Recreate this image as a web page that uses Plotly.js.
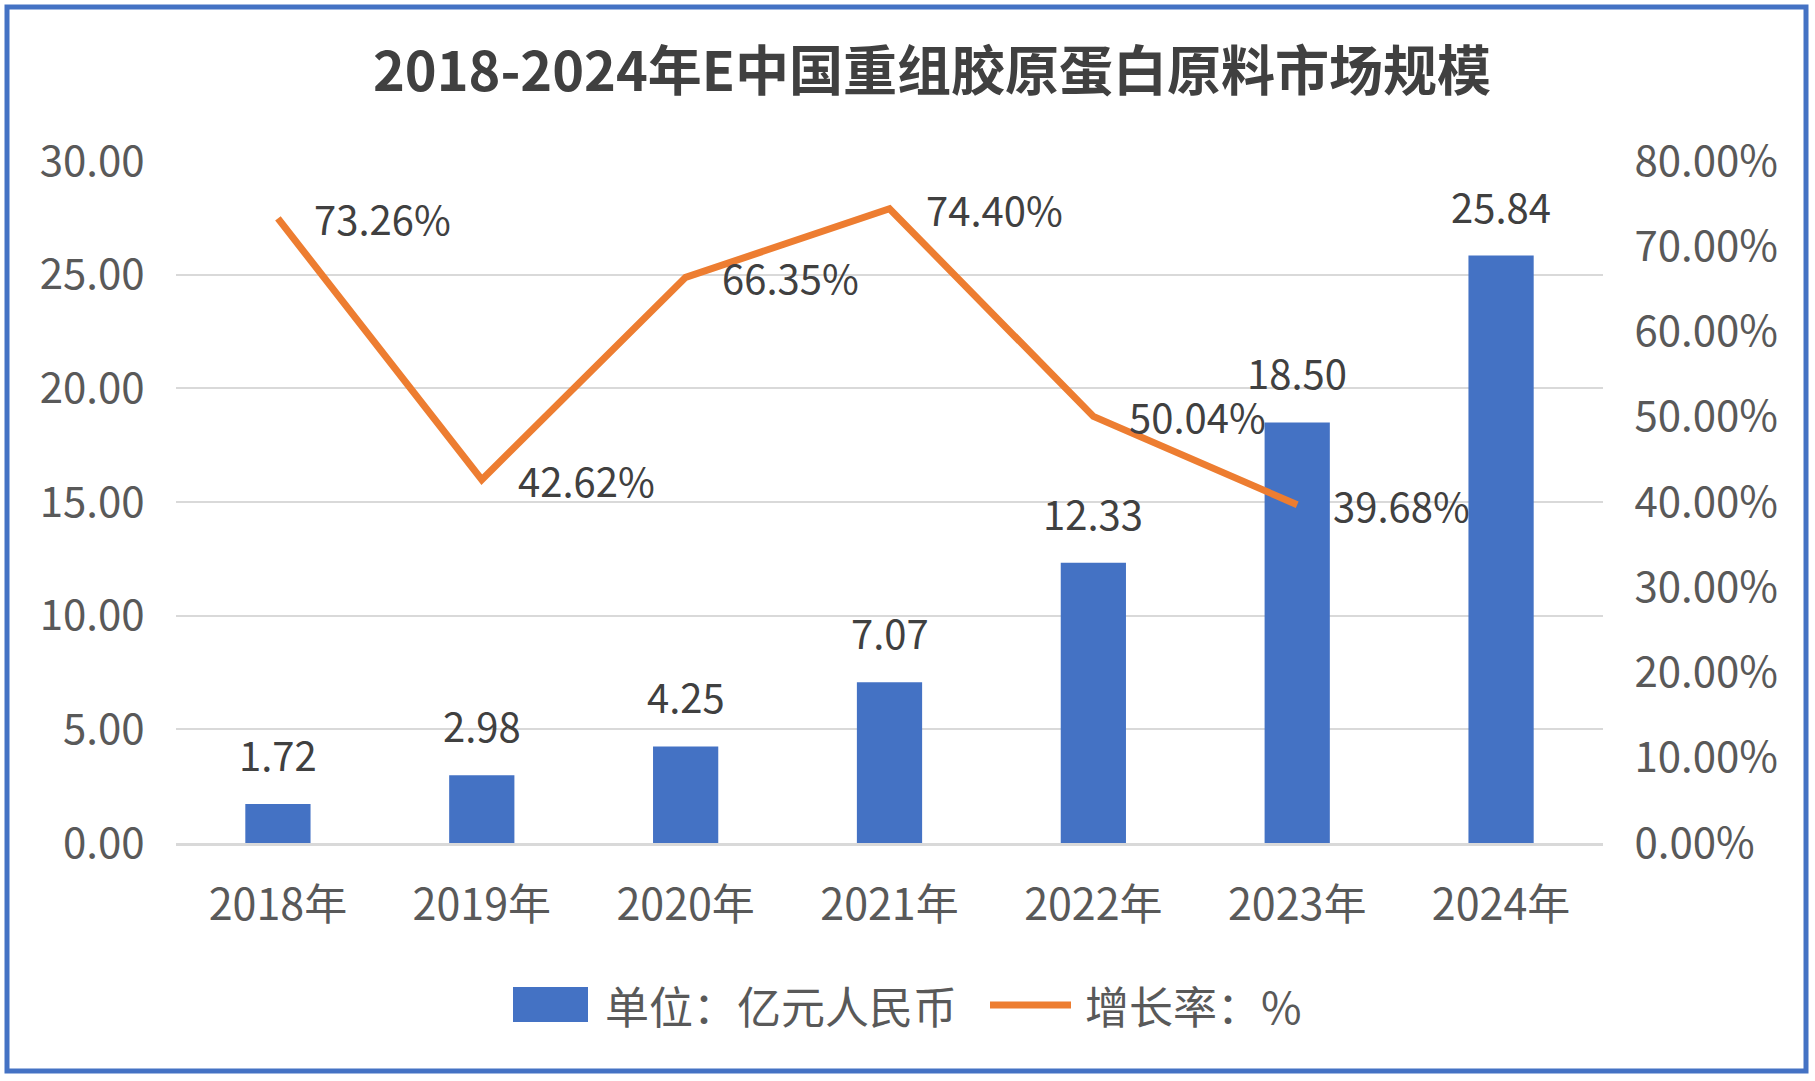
<!DOCTYPE html>
<html>
<head>
<meta charset="utf-8">
<script src="https://cdn.plot.ly/plotly-3.0.1.min.js"></script>
<style>
  html, body { margin: 0; padding: 0; background: #fff; }
  #chart { width: 1815px; height: 1081px; }
</style>
</head>
<body>
<div id="chart"></div>
<script>
(function() {
  "use strict";

  var years = ["2018年", "2019年", "2020年", "2021年", "2022年", "2023年", "2024年"];
  var marketSize = [1.72, 2.98, 4.25, 7.07, 12.33, 18.50, 25.84];
  var growthRate = [0.7326, 0.4262, 0.6635, 0.7440, 0.5004, 0.3968, null];
  var sizeLabels = ["1.72", "2.98", "4.25", "7.07", "12.33", "18.50", "25.84"];
  var rateLabels = ["73.26%", "42.62%", "66.35%", "74.40%", "50.04%", "39.68%"];
  var barName = "单位：亿元人民币";
  var lineName = "增长率：%";

  var W = 1815, H = 1081;
  var M = { l: 176, r: 212, t: 161, b: 238 };
  var FONT = "'Noto Sans CJK SC', 'Noto Sans', sans-serif";

  // pixel -> paper fraction, for the frame and the hand made legend
  function px(x) { return (x - M.l) / (W - M.l - M.r); }
  function py(y) { return (H - M.b - y) / (H - M.t - M.b); }

  function main() {
    var bars = {
      x: years,
      y: marketSize,
      name: barName,
      type: "bar",
      marker: { color: "#4472C4" },
      hoverinfo: "skip",
      showlegend: false
    };

    var line = {
      x: years,
      y: growthRate,
      name: lineName,
      type: "scatter",
      mode: "lines",
      yaxis: "y2",
      line: { color: "#ED7D31", width: 7 },
      hoverinfo: "skip",
      showlegend: false
    };

    var annotations = [];
    marketSize.forEach(function(v, i) {
      annotations.push({
        x: years[i], y: v, xref: "x", yref: "y",
        text: sizeLabels[i], showarrow: false,
        yanchor: "middle", yshift: 50,
        font: { family: FONT, size: 40, color: "#404040" }
      });
    });
    rateLabels.forEach(function(t, i) {
      annotations.push({
        x: years[i], y: growthRate[i], xref: "x", yref: "y2",
        text: t, showarrow: false,
        xanchor: "left", xshift: 34, yanchor: "middle", yshift: 0,
        font: { family: FONT, size: 40, color: "#404040" }
      });
    });

    // legend
    annotations.push({
      x: px(603), y: py(1005), xref: "paper", yref: "paper",
      text: barName, showarrow: false, xanchor: "left", yanchor: "middle",
      font: { family: FONT, size: 44, color: "#595959" }
    });
    annotations.push({
      x: px(1083), y: py(1005), xref: "paper", yref: "paper",
      text: lineName, showarrow: false, xanchor: "left", yanchor: "middle",
      font: { family: FONT, size: 44, color: "#595959" }
    });

    var shapes = [
      {
        type: "rect", xref: "paper", yref: "paper",
        x0: px(7), x1: px(1806), y0: py(7), y1: py(1071),
        line: { color: "#4472C4", width: 5 }, fillcolor: "rgba(0,0,0,0)"
      },
      {
        type: "rect", xref: "paper", yref: "paper",
        x0: px(513), x1: px(588), y0: py(987), y1: py(1022),
        line: { width: 0 }, fillcolor: "#4472C4"
      },
      {
        type: "line", xref: "paper", yref: "paper",
        x0: px(990), x1: px(1071), y0: py(1005), y1: py(1005),
        line: { color: "#ED7D31", width: 7 }
      }
    ];

    var layout = {
      width: W,
      height: H,
      margin: M,
      paper_bgcolor: "#ffffff",
      plot_bgcolor: "#ffffff",
      font: { family: FONT, color: "#595959" },
      title: {
        text: "<b>2018-2024年E中国重组胶原蛋白原料市场规模</b>",
        font: { family: FONT, size: 54, color: "#404040" },
        xref: "container", x: 0.5135,
        yref: "container", y: 1 - 72 / H, yanchor: "middle"
      },
      bargap: 0.68,
      showlegend: false,
      xaxis: {
        type: "category",
        showgrid: false,
        showline: true,
        linecolor: "#D9D9D9",
        linewidth: 3,
        ticks: "outside",
        ticklen: 22,
        tickcolor: "rgba(0,0,0,0)",
        tickfont: { family: FONT, size: 43, color: "#595959" }
      },
      yaxis: {
        range: [0, 30],
        dtick: 5,
        tickformat: ".2f",
        showgrid: true,
        gridcolor: "#D9D9D9",
        gridwidth: 2,
        zeroline: false,
        showline: false,
        ticks: "outside",
        ticklen: 22,
        tickcolor: "rgba(0,0,0,0)",
        tickfont: { family: FONT, size: 42, color: "#595959" }
      },
      yaxis2: {
        overlaying: "y",
        side: "right",
        range: [0, 0.8],
        dtick: 0.1,
        tickformat: ".2%",
        showgrid: false,
        zeroline: false,
        showline: false,
        ticks: "outside",
        ticklen: 22,
        tickcolor: "rgba(0,0,0,0)",
        tickfont: { family: FONT, size: 42, color: "#595959" }
      },
      annotations: annotations,
      shapes: shapes
    };

    Plotly.newPlot("chart", [bars, line], layout, { displayModeBar: false, staticPlot: true });
  }

  window.addEventListener("load", main, false);
})();
</script>
</body>
</html>
